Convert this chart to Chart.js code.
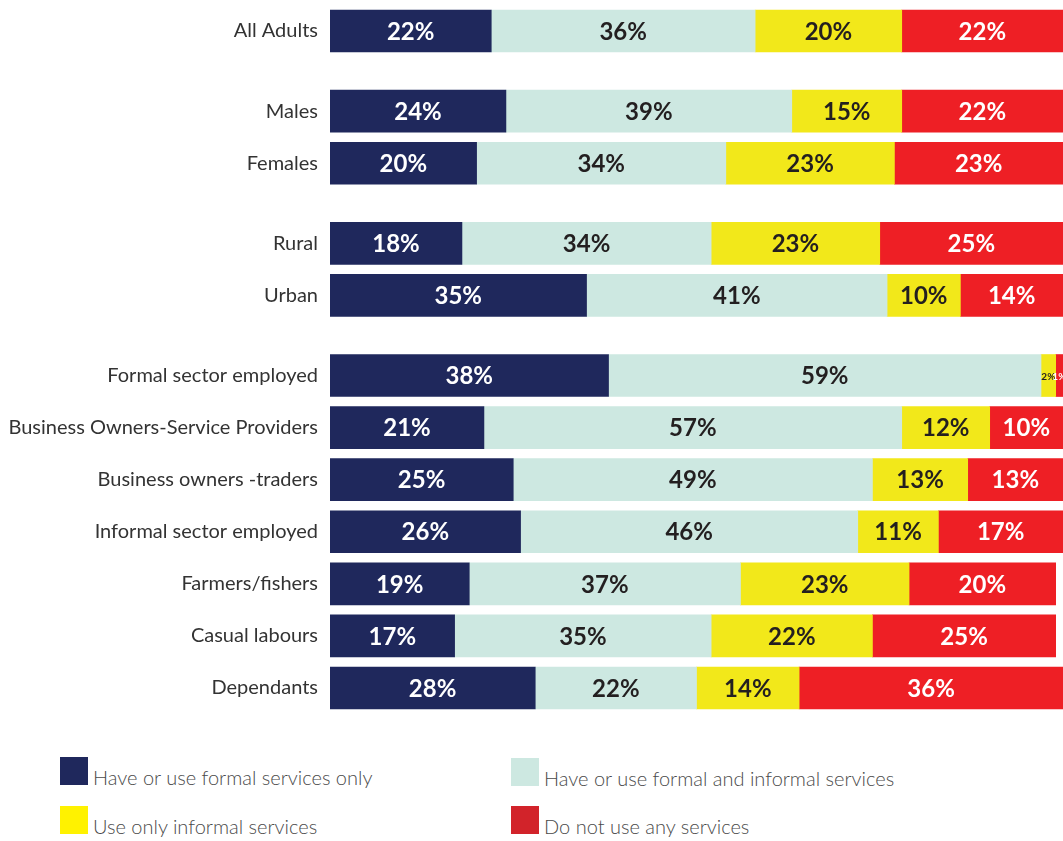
<!DOCTYPE html>
<html>
<head>
<meta charset="utf-8">
<script src="https://cdn.jsdelivr.net/npm/chart.js@4.4.1/dist/chart.umd.min.js"></script>
<style>
  html,body{margin:0;padding:0;background:#fff;}
  #wrap{position:relative;width:1063px;height:841px;overflow:hidden;}
  #c{position:absolute;left:0;top:0;}
  .lg{position:absolute;display:flex;align-items:flex-end;font-family:Lato,"Noto Sans",sans-serif;font-size:20px;color:#4a4a4a;font-weight:300;}
  .lg .sw{width:28px;height:28px;margin-right:5px;flex:none;}
  .lg .tx{line-height:20px;position:relative;top:2px;}
</style>
</head>
<body>
<div id="wrap">
  <canvas id="c" width="1063" height="714"></canvas>
</div>
<script>
// ---- data ----
const categories = [
  "All Adults",
  "Males", "Females",
  "Rural", "Urban",
  "Formal sector employed",
  "Business Owners-Service Providers",
  "Business owners -traders",
  "Informal sector employed",
  "Farmers/fishers",
  "Casual labours",
  "Dependants"
];
const groupSizes = [1, 2, 2, 7];
const seriesNames = [
  "Have or use formal services only",
  "Have or use formal and informal services",
  "Use only informal services",
  "Do not use any services"
];
const formalOnly      = [22, 24, 20, 18, 35, 38, 21, 25, 26, 19, 17, 28];
const formalInformal  = [36, 39, 34, 34, 41, 59, 57, 49, 46, 37, 35, 22];
const informalOnly    = [20, 15, 23, 23, 10,  2, 12, 13, 11, 23, 22, 14];
const excluded        = [22, 22, 23, 25, 14,  1, 10, 13, 17, 20, 25, 36];

// ---- styles ----
const barColors = ["#1f285c", "#cde8e1", "#f2e81a", "#ee1f25"];
const legendColors = ["#1f285c", "#cde8e1", "#fff200", "#d2232a"];
const labelColors = ["#ffffff", "#231f20", "#231f20", "#ffffff"];
const GROUP_GAP = 28 / 52;

// row positions computed from group structure
const positions = [];
(function(){
  let p = 0;
  groupSizes.forEach(n => {
    for (let j = 0; j < n; j++) { positions.push(p); p += 1; }
    p += GROUP_GAP;
  });
})();

const seriesValues = [formalOnly, formalInformal, informalOnly, excluded];

const datasets = seriesValues.map((vals, si) => ({
  label: seriesNames[si],
  data: vals.map((v, i) => ({ x: v, y: positions[i] })),
  backgroundColor: barColors[si],
  borderWidth: 0,
  barThickness: 42
}));

const segLabels = {
  id: 'segLabels',
  afterDatasetsDraw(chart) {
    const ctx = chart.ctx;
    chart.data.datasets.forEach((ds, di) => {
      const meta = chart.getDatasetMeta(di);
      meta.data.forEach((el, i) => {
        const v = ds.data[i].x;
        const cx = (el.x + el.base) / 2;
        const small = v < 5;
        ctx.save();
        ctx.font = "bold " + (small ? 10 : 24) + "px Lato, 'Noto Sans', sans-serif";
        ctx.fillStyle = labelColors[di];
        ctx.textAlign = 'center';
        ctx.textBaseline = 'middle';
        ctx.fillText(v + '%', cx, el.y + 1);
        ctx.restore();
      });
    });
  }
};

new Chart(document.getElementById('c'), {
  type: 'bar',
  data: { datasets },
  options: {
    indexAxis: 'y',
    responsive: false,
    animation: false,
    layout: { padding: { top: 5, right: 0, bottom: 0, left: 0 } },
    plugins: { legend: { display: false }, tooltip: { enabled: false } },
    scales: {
      x: { type: 'linear', min: 0, max: 100, stacked: true, display: false },
      y: {
        type: 'linear',
        reverse: true,
        stacked: true,
        offset: false,
        min: -0.5,
        max: positions[positions.length - 1] + 0.5,
        afterFit: s => { s.width = 330; s.paddingTop = 0; s.paddingBottom = 0; },
        afterBuildTicks: s => { s.ticks = positions.map(v => ({ value: v })); },
        grid: { display: false, drawTicks: false },
        border: { display: false },
        ticks: {
          autoSkip: false,
          padding: 12,
          color: '#333',
          font: { family: "Lato, 'Noto Sans', sans-serif", size: 20 },
          callback: (v, i) => categories[i]
        }
      }
    }
  },
  plugins: [segLabels]
});

// legend (2x2) built from series names/colours
const legendPos = [[60, 757], [511, 758], [60, 806], [511, 806]];
const wrap = document.getElementById('wrap');
seriesNames.forEach((name, i) => {
  const d = document.createElement('div');
  d.className = 'lg';
  d.style.left = legendPos[i][0] + 'px';
  d.style.top = legendPos[i][1] + 'px';
  const sw = document.createElement('div');
  sw.className = 'sw';
  sw.style.background = legendColors[i];
  const tx = document.createElement('span');
  tx.className = 'tx';
  tx.textContent = name;
  d.appendChild(sw); d.appendChild(tx);
  wrap.appendChild(d);
});
</script>
</body>
</html>
